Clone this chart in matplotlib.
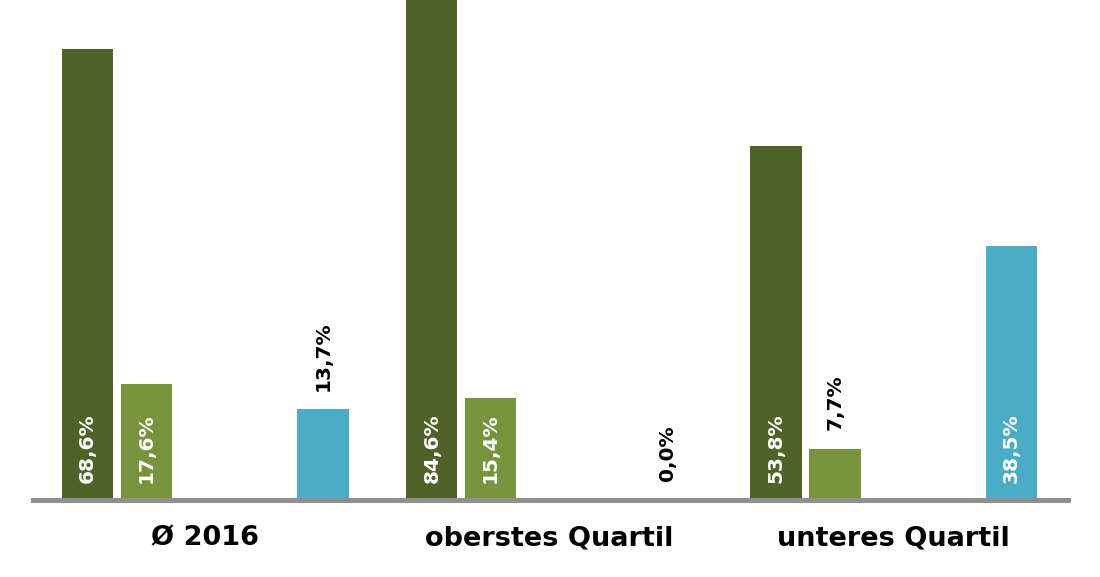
import numpy as np
import matplotlib
matplotlib.use("Agg")
import matplotlib.pyplot as plt

# ---- data ----
categories = ["Ø 2016", "oberstes Quartil", "unteres Quartil"]
series_1 = [68.6, 84.6, 53.8]
series_2 = [17.6, 15.4, 7.7]
series_3 = [None, None, None]   # empty slot in the legend order
series_4 = [None, None, None]   # empty slot in the legend order
series_5 = [13.7, 0.0, 38.5]

series = [series_1, series_2, series_3, series_4, series_5]
colors = ["#4f6228", "#77933c", "#9bbb59", "#c3d69b", "#4bacc6"]

# ---- layout ----
group_step = 5.85
bar_width = 0.87
inside_threshold = 15.0

fig = plt.figure(figsize=(11, 5.77), dpi=100)
ax = fig.add_axes([0.03, 0.1343, 0.9409, 0.8657])

for si, (vals, col) in enumerate(zip(series, colors)):
    for gi, v in enumerate(vals):
        if v is None:
            continue
        x = gi * group_step + si
        ax.bar(x, v, width=bar_width, color=col, zorder=2)
        label = f"{v:.1f}".replace(".", ",") + "%"
        if v >= inside_threshold:
            ax.annotate(label, xy=(x, 0), xytext=(0, 12.2), textcoords="offset points",
                        rotation=90, ha="center", va="bottom", color="white",
                        fontsize=14.5, fontweight="bold", family="DejaVu Sans")
        else:
            ax.annotate(label, xy=(x, v), xytext=(0, 13.5), textcoords="offset points",
                        rotation=90, ha="center", va="bottom", color="black",
                        fontsize=14.5, fontweight="bold", family="DejaVu Sans")

centers = [gi * group_step + 2 for gi in range(len(categories))]
ax.set_xticks(centers)
ax.set_xticklabels(categories, fontsize=19.5, fontweight="bold", family="DejaVu Sans")
ax.tick_params(axis="x", length=0, pad=19)
ax.set_yticks([])
ax.set_xlim(-0.926, 16.66)
ax.set_ylim(0, 76.0)
for s in ["left", "right", "top"]:
    ax.spines[s].set_visible(False)
ax.spines["bottom"].set_color("#8f8f8f")
ax.spines["bottom"].set_linewidth(3.6)
ax.spines["bottom"].set_zorder(3)

fig.savefig("out.png", dpi=100, facecolor="white")
